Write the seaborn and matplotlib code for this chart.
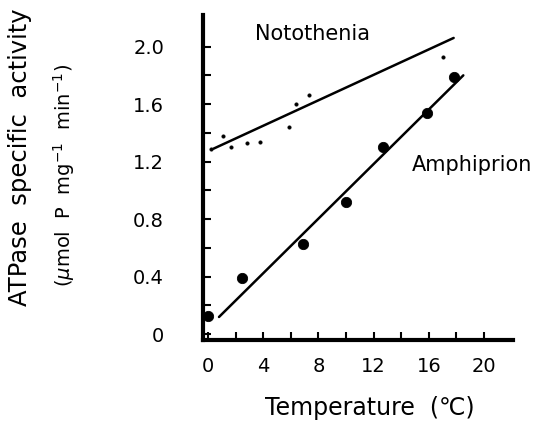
import numpy as np
import pandas as pd
import matplotlib
matplotlib.use("Agg")
import matplotlib.pyplot as plt
import seaborn as sns

# значения
amph_temp = [0.0, 2.5, 6.9, 10.0, 12.7, 15.9, 17.8]
amph_act = [0.13, 0.39, 0.63, 0.92, 1.30, 1.54, 1.79]
amph_line_temp = [0.8, 18.5]
amph_line_act = [0.12, 1.80]

noto_temp = [0.2, 1.1, 1.7, 2.8, 3.8, 5.9, 6.4, 7.3, 17.0]
noto_act = [1.29, 1.38, 1.30, 1.33, 1.34, 1.44, 1.60, 1.66, 1.93]
noto_line_temp = [0.4, 17.8]
noto_line_act = [1.29, 2.06]

x_ticks = [0, 4, 8, 12, 16, 20]
y_ticks = [0, 0.4, 0.8, 1.2, 1.6, 2.0]
y_tick_labels = ["0", "0.4", "0.8", "1.2", "1.6", "2.0"]

sns.set_style("ticks")
plt.rcParams["font.family"] = ["DejaVu Sans"]
plt.rcParams["text.color"] = "black"
plt.rcParams["xtick.color"] = "black"
plt.rcParams["ytick.color"] = "black"
plt.rcParams["axes.edgecolor"] = "black"

fig = plt.figure(figsize=(5.42, 4.34), dpi=100)
ax = fig.add_axes([0.3745, 0.2166, 0.572, 0.749])

amph = pd.DataFrame({"t": amph_temp, "a": amph_act})
noto = pd.DataFrame({"t": noto_temp, "a": noto_act})

sns.lineplot(x=amph_line_temp, y=amph_line_act, color="black", lw=1.8, ax=ax)
sns.lineplot(x=noto_line_temp, y=noto_line_act, color="black", lw=1.8, ax=ax)
sns.scatterplot(data=amph, x="t", y="a", color="black", s=55, edgecolor="black", ax=ax, zorder=3)
sns.scatterplot(data=noto, x="t", y="a", color="black", s=7, edgecolor="black", ax=ax, zorder=3)

ax.set_xlim(-0.36, 22.1)
ax.set_ylim(-0.04, 2.22)

ax.set_xticks(np.arange(0, 21, 2))
ax.set_xticklabels([str(v) if v in x_ticks else "" for v in range(0, 21, 2)])
y_minor = np.round(np.arange(0, 2.01, 0.2), 1)
ax.set_yticks(y_minor)
ax.set_yticklabels([y_tick_labels[y_ticks.index(v)] if v in y_ticks else "" for v in y_minor])
ax.tick_params(axis="both", direction="in", length=6, width=1.5, labelsize=14)
ax.tick_params(axis="y", pad=28)
ax.tick_params(axis="x", pad=12)

for side in ["top", "right"]:
    ax.spines[side].set_visible(False)
ax.spines["left"].set_linewidth(3)
ax.spines["bottom"].set_linewidth(3)
ax.set_xlabel("")
ax.set_ylabel("")

ax.text(7.6, 2.09, "Notothenia", fontsize=15, ha="center", va="center")
ax.text(19.1, 1.18, "Amphiprion", fontsize=15, ha="center", va="center", clip_on=False)

fig.text(370 / 542, 1 - 408 / 434, "Temperature  (\u2103)", fontsize=17, ha="center", va="center")
fig.text(20 / 542, 1 - 157 / 434, "ATPase  specific  activity", fontsize=17.5,
         rotation=90, ha="center", va="center")
fig.text(64 / 542, 1 - 175 / 434, "($\\mu$mol  P  mg$^{-1}$  min$^{-1}$)", fontsize=14,
         rotation=90, ha="center", va="center")

fig.savefig("out.png", dpi=100)
